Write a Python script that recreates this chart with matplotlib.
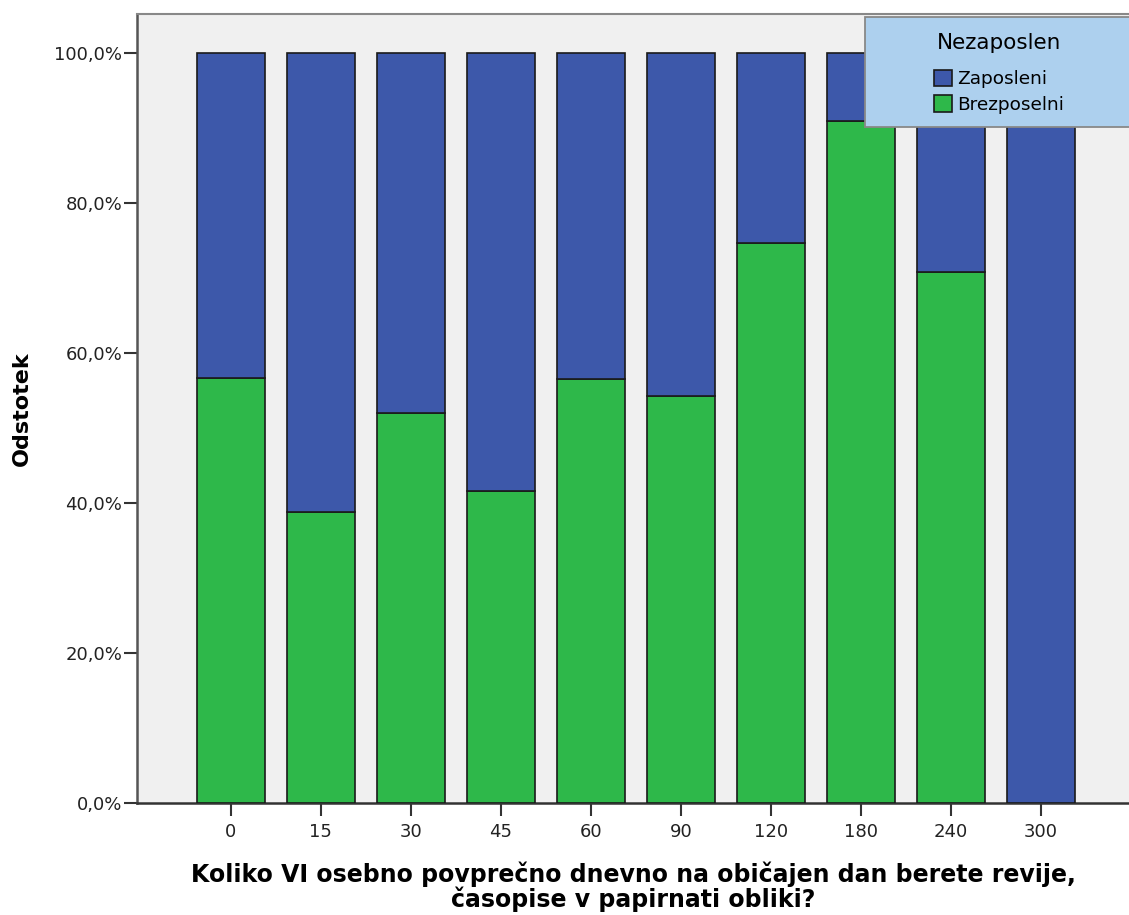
import matplotlib
matplotlib.use("Agg")
import matplotlib.pyplot as plt
from matplotlib.patches import Patch, Rectangle

categories = ["0", "15", "30", "45", "60", "90", "120", "180", "240", "300"]
brezposelni = [56.7, 38.8, 52.0, 41.6, 56.5, 54.3, 74.7, 90.9, 70.8, 0.0]
zaposleni = [100 - v for v in brezposelni]
yticks = [0, 20, 40, 60, 80, 100]
ytick_labels = ["0,0%", "20,0%", "40,0%", "60,0%", "80,0%", "100,0%"]

blue = "#3D58AA"
green = "#2EB84A"

W, H = 1129, 915
fig = plt.figure(figsize=(W/100, H/100), dpi=100)
ax = fig.add_axes([137/W, 1 - 803/H, (W-137)/W, (803-14)/H])
ax.set_facecolor("#F0F0F0")

x = list(range(len(categories)))
ax.bar(x, brezposelni, width=0.755, color=green, edgecolor="#1a1a1a", linewidth=1.2, zorder=3)
ax.bar(x, zaposleni, bottom=brezposelni, width=0.755, color=blue, edgecolor="#1a1a1a", linewidth=1.2, zorder=3)

ax.set_xlim(-1.044, 9.98)
ax.set_ylim(0, 105.2)
ax.set_xticks(x)
ax.set_xticklabels(categories, fontsize=13, color="#222222")
ax.set_yticks(yticks)
ax.set_yticklabels(ytick_labels, fontsize=13, color="#222222")
ax.tick_params(axis="both", direction="out", length=9.5, width=1.5, color="#333333")
ax.tick_params(axis="x", pad=5)
ax.tick_params(axis="y", pad=1)

ax.spines["right"].set_visible(False)
ax.spines["left"].set_color("#555555")
ax.spines["left"].set_linewidth(1.8)
ax.spines["bottom"].set_color("#333333")
ax.spines["bottom"].set_linewidth(1.8)
ax.spines["top"].set_color("#888888")
ax.spines["top"].set_linewidth(1.5)

ax.set_ylabel("Odstotek", fontsize=16, fontweight="bold", labelpad=16)
ax.set_xlabel("Koliko VI osebno povprečno dnevno na običajen dan berete revije,\nčasopise v papirnati obliki?",
              fontsize=17, fontweight="bold", linespacing=0.95, labelpad=15)

# legend background box
fig.patches.append(Rectangle((865/W, 1 - 127/H), (W - 865 + 10)/W, 110/H,
                             transform=fig.transFigure, facecolor="#ADD0EE",
                             edgecolor="#888888", linewidth=1.3, zorder=4))

handles = [Patch(facecolor=blue, edgecolor="#1a1a1a", linewidth=1.2, label="Zaposleni"),
           Patch(facecolor=green, edgecolor="#1a1a1a", linewidth=1.2, label="Brezposelni")]
leg = fig.legend(handles=handles, title="Nezaposlen", loc="upper center",
                 bbox_to_anchor=(999/W, 1 - 33/H), bbox_transform=fig.transFigure,
                 fontsize=13.3, title_fontsize=15.5, frameon=False,
                 borderpad=0.0, handlelength=1.0, handleheight=1.0,
                 handletextpad=0.3, labelspacing=0.38, borderaxespad=0.0)
leg._legend_box.sep = 12
leg.set_zorder(6)

fig.savefig("out.png", dpi=100, facecolor="white")
